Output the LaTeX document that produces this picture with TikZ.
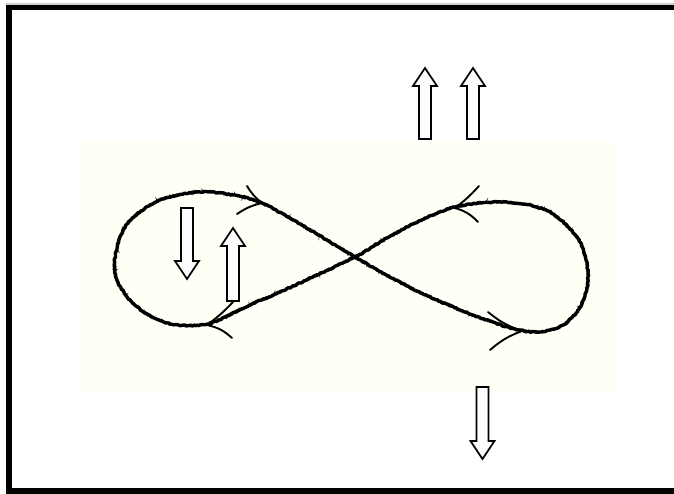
\documentclass[tikz,border=0pt]{standalone}
\usetikzlibrary{decorations.pathmorphing}
\definecolor{creambg}{HTML}{FFFFF6}
\definecolor{arrfill}{HTML}{FDFDFF}
\begin{document}
\begin{tikzpicture}[x=1pt,y=-1pt,
  pencil/.style={line width=3.4pt,line cap=round,line join=round,decorate,
    decoration={random steps,segment length=1.6pt,amplitude=0.6pt}},
  fuzz/.style={line width=1pt,line cap=round,decorate,
    decoration={random steps,segment length=1.2pt,amplitude=1.4pt}},
  barb/.style={line width=1.9pt,line cap=round},
  blockarr/.style={draw=black,fill=arrfill,line width=1.7pt,line join=miter}]
\useasboundingbox (0,0) rectangle (674,494);
\clip (0,0) rectangle (674,494);
\fill[white] (0,0) rectangle (674,494);
% frame, open on the right
\draw[gray!35,line width=1.2pt] (6,4) -- (680,4);
\draw[line width=5.5pt] (680,7.5) -- (9,7.5) -- (9,491) -- (680,491);
% pale backdrop
\fill[creambg] (77,142) rectangle (618,391);
% figure eight
\def\eightpts{(355,257) (392,278) (430,297) (478,317) (515,329) (540,332)
  (563,325) (579,309) (587,288) (587,264) (577,237) (548,211) (505,202)
  (455,207) (413,224) (380,242) (355,257) (300,283) (250,305) (207,324)
  (167,323) (136,306) (118,282) (115,258) (127,224) (160,200) (200,192)
  (233,195) (262,203) (300,224)}
\draw[pencil] plot[smooth cycle,tension=0.55] coordinates {\eightpts};
\draw[fuzz] plot[smooth cycle,tension=0.55] coordinates {\eightpts};
% arrowheads on the curve
\draw[barb] (247,186) to[bend right=10] (262,203) to[bend right=10] (237,214);
\draw[barb] (233,302) to[bend left=5] (207,325) to[bend left=15] (232,338);
\draw[barb] (479,186) to[bend left=5] (455,208) to[bend left=15] (478,222);
\draw[barb] (488,312) to[bend right=10] (522,331) to[bend right=10] (490,350);
% block arrows
\foreach \cx/\yb/\yt in {425/139/68, 473/139/68, 233/301/228}
  \draw[blockarr] (\cx-6,\yb) -- (\cx-6,\yt+18) -- (\cx-12,\yt+18) -- (\cx,\yt)
    -- (\cx+12,\yt+18) -- (\cx+6,\yt+18) -- (\cx+6,\yb) -- cycle;
\foreach \cx/\yt/\yb in {187/208/279, 482.5/387/459}
  \draw[blockarr] (\cx-6,\yt) -- (\cx-6,\yb-18) -- (\cx-12,\yb-18) -- (\cx,\yb)
    -- (\cx+12,\yb-18) -- (\cx+6,\yb-18) -- (\cx+6,\yt) -- cycle;
\end{tikzpicture}
\end{document}
